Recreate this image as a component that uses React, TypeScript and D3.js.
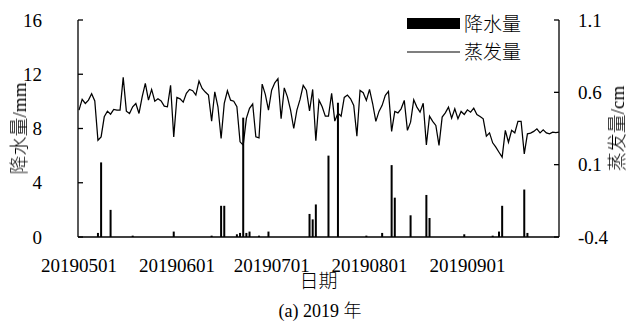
import React from "react";
import * as d3 from "d3";

// Daily series, 2019-05-01 .. 2019-09-30
const startDay = "20190501";
const endDay = "20190930";

// Daily evaporation (cm)
const evaporation = [
  0.477, 0.551, 0.523, 0.546, 0.59, 0.54, 0.269, 0.292, 0.431, 0.47,
  0.449, 0.482, 0.477, 0.477, 0.703, 0.47, 0.454, 0.5, 0.523, 0.454,
  0.569, 0.662, 0.546, 0.62, 0.539, 0.555, 0.541, 0.505, 0.5, 0.648,
  0.292, 0.565, 0.555, 0.532, 0.593, 0.62, 0.611, 0.581, 0.678, 0.627,
  0.602, 0.581, 0.401, 0.604, 0.5, 0.281, 0.523, 0.611, 0.546, 0.539,
  0.5, 0.258, 0.235, 0.42, 0.489, 0.519, 0.292, 0.285, 0.657, 0.586,
  0.477, 0.615, 0.666, 0.694, 0.417, 0.631, 0.569, 0.477, 0.35, 0.477,
  0.551, 0.648, 0.615, 0.472, 0.62, 0.265, 0.546, 0.5, 0.435, 0.435,
  0.593, 0.401, 0.456, 0.435, 0.565, 0.581, 0.555, 0.51, 0.297, 0.613,
  0.597, 0.544, 0.62, 0.521, 0.399, 0.468, 0.51, 0.579, 0.606, 0.33,
  0.468, 0.458, 0.486, 0.544, 0.337, 0.394, 0.548, 0.498, 0.463, 0.525,
  0.237, 0.435, 0.399, 0.371, 0.233, 0.429, 0.458, 0.498, 0.422, 0.486,
  0.417, 0.468, 0.447, 0.479, 0.463, 0.491, 0.447, 0.433, 0.417, 0.297,
  0.32, 0.251, 0.221, 0.186, 0.152, 0.337, 0.255, 0.337, 0.32, 0.399,
  0.399, 0.175, 0.313, 0.318, 0.33, 0.348, 0.32, 0.341, 0.32, 0.313,
  0.325, 0.321, 0.325,
];

// Days with precipitation (mm)
const rainDates = [
  "20190507", "20190508", "20190511", "20190518", "20190531",
  "20190612", "20190615", "20190616", "20190620", "20190621",
  "20190622", "20190623", "20190624", "20190627", "20190630",
  "20190713", "20190714", "20190715", "20190719", "20190722",
  "20190731", "20190805", "20190808", "20190809", "20190814",
  "20190819", "20190820", "20190831", "20190909", "20190911",
  "20190912", "20190919", "20190920",
];
const rainAmounts = [
  0.3, 5.5, 2.0, 0.1, 0.4,
  0.1, 2.3, 2.3, 0.2, 0.3,
  8.8, 0.3, 0.4, 0.1, 0.4,
  1.7, 1.3, 2.4, 6.0, 9.9,
  0.1, 0.3, 5.3, 2.9, 1.6,
  3.1, 1.4, 0.2, 0.1, 0.4,
  2.3, 3.5, 0.3,
];

const dateTicks = ["20190501", "20190601", "20190701", "20190801", "20190901"];
const rainTicks = [0, 4, 8, 12, 16];
const evapTicks = [-0.4, 0.1, 0.6, 1.1];

const W = 630;
const H = 327;
const left = 78;
const right = 559;
const top = 20;
const bottom = 237;

const LATIN = "'Liberation Serif', 'Times New Roman', serif";
const CJK = "'Noto Sans CJK SC', sans-serif";
const FS = 19;

export default function App() {
  const parse = d3.timeParse("%Y%m%d");
  const start = parse(startDay)!;
  const end = parse(endDay)!;

  const x = d3.scaleTime().domain([start, end]).range([left + 1, right]);
  const yRain = d3.scaleLinear().domain([0, 16]).range([bottom, top]);
  const yEvap = d3.scaleLinear().domain([-0.4, 1.1]).range([bottom, top]);

  const evapPoints = evaporation.map((v, i) => ({ date: d3.timeDay.offset(start, i), v }));
  const line = d3
    .line<{ date: Date; v: number }>()
    .x((d) => x(d.date))
    .y((d) => yEvap(d.v));

  const barW = 2;
  const cjkStyle = { fontFamily: CJK, fontWeight: 300 } as const;

  return (
    <svg
      width={W}
      height={H}
      style={{ position: "absolute", left: 0, top: 0, background: "#fff" }}
      fontFamily={LATIN}
    >
      <rect x={0} y={0} width={W} height={H} fill="#fff" />

      {/* precipitation bars */}
      {rainDates.map((d, i) => {
        const cx = x(parse(d)!);
        const y0 = yRain(0);
        const y1 = yRain(rainAmounts[i]);
        return (
          <rect key={d} x={cx - barW / 2} y={y1} width={barW} height={y0 - y1} fill="#000" />
        );
      })}

      {/* evaporation line */}
      <path d={line(evapPoints) || ""} fill="none" stroke="#000" strokeWidth={1.25} />

      {/* axes frame */}
      <line x1={left} x2={left} y1={top} y2={bottom} stroke="#000" strokeWidth={1.3} />
      <line x1={right} x2={right} y1={top} y2={bottom} stroke="#000" strokeWidth={1.3} />
      <line x1={left} x2={right} y1={bottom} y2={bottom} stroke="#000" strokeWidth={1.3} />

      {/* left axis */}
      {rainTicks.map((t) => (
        <g key={"l" + t}>
          <line x1={left} x2={left + 5} y1={yRain(t)} y2={yRain(t)} stroke="#000" strokeWidth={1.3} />
          <text x={42} y={yRain(t)} dy="0.35em" textAnchor="end" fontSize={FS}>
            {t}
          </text>
        </g>
      ))}

      {/* right axis */}
      {evapTicks.map((t) => (
        <g key={"r" + t}>
          <line x1={right - 5} x2={right} y1={yEvap(t)} y2={yEvap(t)} stroke="#000" strokeWidth={1.3} />
          <text x={578} y={yEvap(t)} dy="0.35em" textAnchor="start" fontSize={FS}>
            {t.toFixed(1)}
          </text>
        </g>
      ))}

      {/* date labels */}
      {dateTicks.map((t) => (
        <text key={t} x={x(parse(t)!)} y={265} dy="0.35em" textAnchor="middle" fontSize={FS}>
          {t}
        </text>
      ))}

      {/* axis titles */}
      <text x={(left + right) / 2} y={281} dy="0.35em" textAnchor="middle" fontSize={FS} style={cjkStyle}>
        日期
      </text>
      <g opacity={0.999}>
        <text
          transform={`translate(19,${(top + bottom) / 2}) rotate(-90)`}
          dy="0.35em"
          textAnchor="middle"
          fontSize={FS}
          fill="#000"
        >
          <tspan style={cjkStyle}>降水量</tspan>
          <tspan>/mm</tspan>
        </text>
        <text
          transform={`translate(617,${(top + bottom) / 2}) rotate(-90)`}
          dy="0.35em"
          textAnchor="middle"
          fontSize={FS}
          fill="#000"
        >
          <tspan style={cjkStyle}>蒸发量</tspan>
          <tspan>/cm</tspan>
        </text>
      </g>

      {/* legend */}
      <rect x={407} y={18} width={53} height={11} fill="#000" />
      <text x={464} y={24} dy="0.35em" fontSize={FS} style={cjkStyle}>
        降水量
      </text>
      <line x1={407} x2={460} y1={52} y2={52} stroke="#000" strokeWidth={1.2} />
      <text x={464} y={52} dy="0.35em" fontSize={FS} style={cjkStyle}>
        蒸发量
      </text>

      {/* caption */}
      <text x={320} y={311} dy="0.35em" textAnchor="middle" fontSize={FS - 1}>
        <tspan>(a) 2019 </tspan>
        <tspan style={cjkStyle}>年</tspan>
      </text>
    </svg>
  );
}
